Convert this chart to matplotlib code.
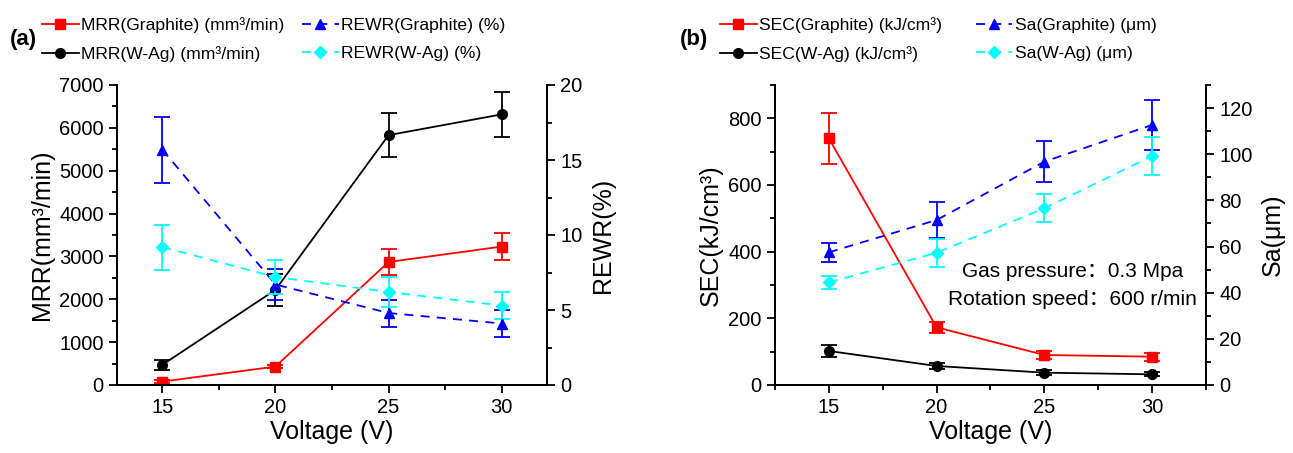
import matplotlib
matplotlib.use("Agg")
import matplotlib.pyplot as plt
from matplotlib.lines import Line2D
from matplotlib.ticker import MultipleLocator

plt.rcParams["font.family"] = ["Liberation Sans", "Noto Sans CJK SC", "DejaVu Sans"]

voltage = [15, 20, 25, 30]

# panel (a)
mrr_graphite = [80, 430, 2870, 3230]
mrr_graphite_err = [40, 40, 300, 320]
mrr_wag = [470, 2220, 5830, 6315]
mrr_wag_err = [110, 380, 510, 520]
rewr_graphite = [15.7, 6.7, 4.8, 4.1]
rewr_graphite_err = [2.2, 1.05, 0.9, 0.9]
rewr_wag = [9.2, 7.2, 6.2, 5.3]
rewr_wag_err = [1.5, 1.15, 1.0, 0.9]

# panel (b)
sec_graphite = [740, 173, 90, 85]
sec_graphite_err = [76, 17, 12, 12]
sec_wag = [102, 57, 37, 32]
sec_wag_err = [17, 8, 8, 6]
sa_graphite = [57.5, 71.5, 96.8, 112.7]
sa_graphite_err = [4.0, 7.7, 8.9, 11.0]
sa_wag = [44.5, 57.3, 76.6, 99.2]
sa_wag_err = [2.9, 6.1, 6.0, 8.1]

RED, BLACK, BLUE, CYAN = "#ff0000", "#000000", "#0000ff", "#00ffff"
DASH = (0, (5, 4))
TICK_FS = 14.5
LABEL_FS = 18


def series(ax, y, err, color, marker, ls, label, ms=7):
    ax.errorbar(voltage, y, yerr=err, color=color, marker=marker, ms=ms,
                ls=ls, lw=1.3, elinewidth=1.3, capsize=6, capthick=1.3)
    # legend handle without the error bar
    return Line2D([], [], color=color, marker=marker, ms=ms, ls=ls, lw=1.3,
                  label=label)


def style(ax, twin):
    for a in (ax, twin):
        for s in a.spines.values():
            s.set_linewidth(1.3)
        a.spines["top"].set_visible(False)
        a.tick_params(which="major", direction="out", length=6, width=1.3,
                      labelsize=TICK_FS)
        a.tick_params(which="minor", direction="out", length=3.5, width=1.3)
    ax.xaxis.set_major_locator(MultipleLocator(5))
    ax.xaxis.set_minor_locator(MultipleLocator(2.5))
    ax.set_xlabel("Voltage (V)", fontsize=LABEL_FS, labelpad=2)


def legend(handles, x, colspace):
    fig.legend(handles=handles, loc="upper left",
               bbox_to_anchor=(x / 1293, 1 - 1 / 453),
               ncol=2, frameon=False, fontsize=12.6, handlelength=2.1,
               handletextpad=0.15, columnspacing=colspace, labelspacing=0.75,
               numpoints=1)


fig = plt.figure(figsize=(12.93, 4.53), dpi=100)

# ---------- (a) ----------
ax1 = fig.add_axes([117 / 1293, 68 / 453, 430 / 1293, 300 / 453])
ax1b = ax1.twinx()
h1 = series(ax1, mrr_graphite, mrr_graphite_err, RED, "s", "-",
            "MRR(Graphite) (mm³/min)")
h2 = series(ax1, mrr_wag, mrr_wag_err, BLACK, "o", "-",
            "MRR(W-Ag) (mm³/min)")
h3 = series(ax1b, rewr_graphite, rewr_graphite_err, BLUE, "^", DASH,
            "REWR(Graphite) (%)")
h4 = series(ax1b, rewr_wag, rewr_wag_err, CYAN, "D", DASH,
            "REWR(W-Ag) (%)", ms=6)
ax1.set_xlim(13, 32)
ax1.set_ylim(0, 7000)
ax1b.set_ylim(0, 20)
ax1.yaxis.set_major_locator(MultipleLocator(1000))
ax1.yaxis.set_minor_locator(MultipleLocator(500))
ax1b.yaxis.set_major_locator(MultipleLocator(5))
ax1b.yaxis.set_minor_locator(MultipleLocator(2.5))
style(ax1, ax1b)
ax1.set_ylabel("MRR(mm³/min)", fontsize=LABEL_FS, labelpad=4)
ax1b.set_ylabel("REWR(%)", fontsize=LABEL_FS, labelpad=6)

legend([h1, h2, h3, h4], 26, 1.0)
fig.text(10 / 1293, 1 - 40 / 453, "(a)", fontsize=16, fontweight="bold",
         va="center", ha="left")

# ---------- (b) ----------
ax2 = fig.add_axes([775 / 1293, 68 / 453, 431 / 1293, 300 / 453])
ax2b = ax2.twinx()
g1 = series(ax2, sec_graphite, sec_graphite_err, RED, "s", "-",
            "SEC(Graphite) (kJ/cm³)")
g2 = series(ax2, sec_wag, sec_wag_err, BLACK, "o", "-",
            "SEC(W-Ag) (kJ/cm³)")
g3 = series(ax2b, sa_graphite, sa_graphite_err, BLUE, "^", DASH,
            "Sa(Graphite) (μm)")
g4 = series(ax2b, sa_wag, sa_wag_err, CYAN, "D", DASH,
            "Sa(W-Ag) (μm)", ms=6)
ax2.set_xlim(12.5, 32.5)
ax2.set_ylim(0, 900)
ax2b.set_ylim(0, 130)
ax2.yaxis.set_major_locator(MultipleLocator(200))
ax2.yaxis.set_minor_locator(MultipleLocator(100))
ax2b.yaxis.set_major_locator(MultipleLocator(20))
ax2b.yaxis.set_minor_locator(MultipleLocator(10))
style(ax2, ax2b)
ax2.set_ylabel("SEC(kJ/cm³)", fontsize=LABEL_FS, labelpad=4)
ax2b.set_ylabel("Sa(μm)", fontsize=LABEL_FS, labelpad=6)

ax2b.text(0.69, 0.377, "Gas pressure：0.3 Mpa", transform=ax2b.transAxes,
          fontsize=15, ha="center", va="center")
ax2b.text(0.69, 0.286, "Rotation speed：600 r/min", transform=ax2b.transAxes,
          fontsize=15, ha="center", va="center")

legend([g1, g2, g3, g4], 704, 1.9)
fig.text(680 / 1293, 1 - 40 / 453, "(b)", fontsize=16, fontweight="bold",
         va="center", ha="left")

fig.savefig("out.png", dpi=100, facecolor="white")
